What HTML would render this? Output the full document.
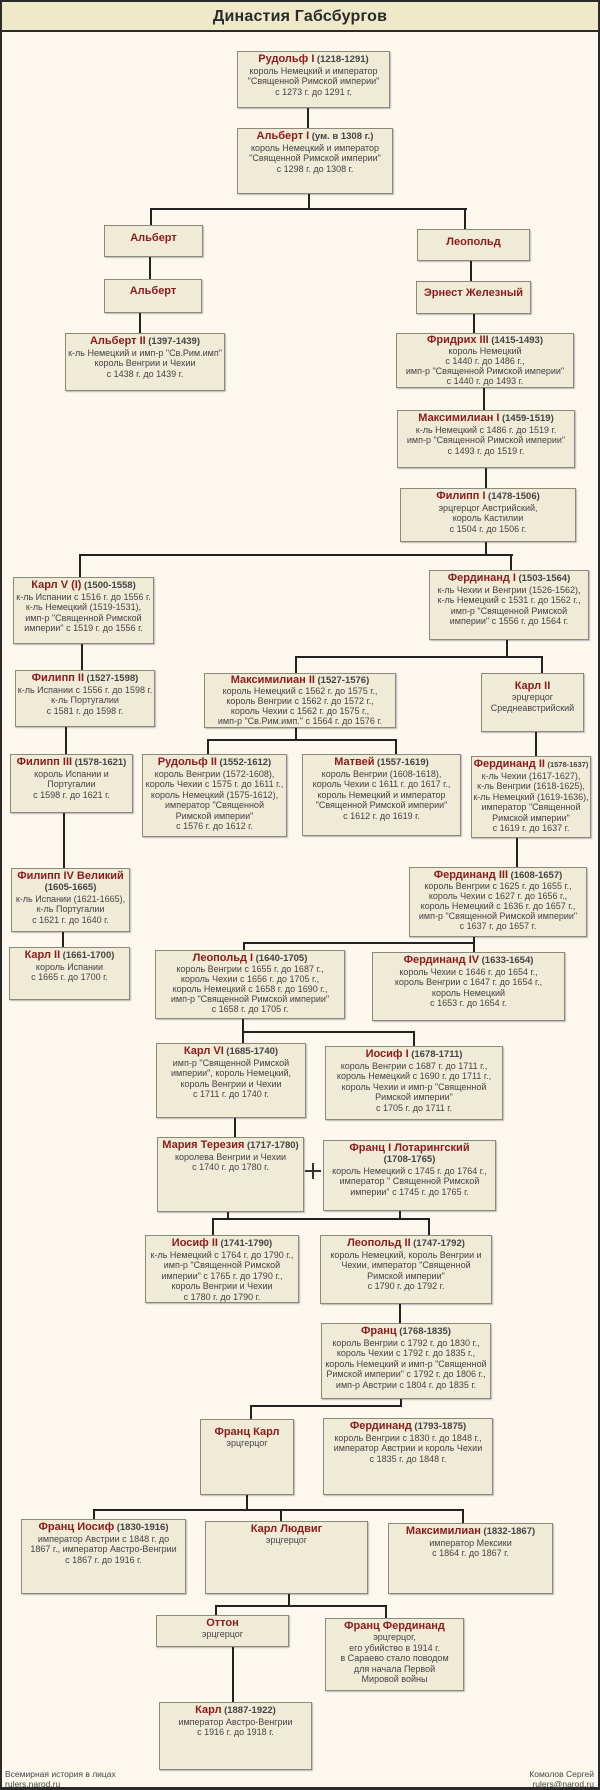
<!DOCTYPE html>
<html><head><meta charset="utf-8">
<style>
*{margin:0;padding:0;box-sizing:border-box}
html,body{width:600px;height:1790px;background:#fdf8ee;overflow:hidden}
body{position:relative;font-family:"Liberation Sans",sans-serif;color:#333}
#frame{position:absolute;left:0;top:0;width:600px;height:1790px;border:2px solid #2a2a2a;border-bottom-width:3px}
#title{position:absolute;left:0;top:0;width:600px;height:32px;background:#efe8c9;border:2px solid #2a2a2a;border-bottom-width:2px;text-align:center;font-size:16px;line-height:30px;color:#2a2a2a;font-weight:bold;letter-spacing:0.2px}
.b{position:absolute;background:#efebd7;border:1px solid #8a8a7a;box-shadow:1px 1px 1px #bbb;text-align:center;font-size:9px;line-height:10.5px;padding-top:1px;color:#444;white-space:nowrap;overflow:hidden}
.b b{color:#8b1c1c;font-size:11px;line-height:12px}
.b i{font-style:normal;font-weight:bold;color:#444;font-size:9.5px}
.t{line-height:10px}
.h{position:absolute;height:2px;background:#222}
.v{position:absolute;width:2px;background:#222}
.ft{position:absolute;font-size:8.5px;line-height:10px;color:#444}
</style></head><body>
<div id="frame"></div>
<div id="title">Династия Габсбургов</div>

<div class="b" style="left:237px;top:51px;width:153px;height:57px"><b>Рудольф I</b> <i>(1218-1291)</i><br>король Немецкий и император<br>"Священной Римской империи"<br>с 1273 г. до 1291 г.</div>
<div class="b" style="left:237px;top:128px;width:156px;height:66px"><b>Альберт I</b> <i>(ум. в 1308 г.)</i><br>король Немецкий и император<br>"Священной Римской империи"<br>с 1298 г. до 1308 г.</div>
<div class="b" style="left:104px;top:225px;width:99px;height:32px;padding-top:6px"><b>Альберт</b></div>
<div class="b" style="left:417px;top:229px;width:113px;height:32px;padding-top:6px"><b>Леопольд</b></div>
<div class="b" style="left:104px;top:279px;width:98px;height:34px;padding-top:5px"><b>Альберт</b></div>
<div class="b" style="left:416px;top:281px;width:115px;height:33px;padding-top:5px"><b>Эрнест Железный</b></div>
<div class="b" style="left:65px;top:333px;width:160px;height:58px"><b>Альберт II</b> <i>(1397-1439)</i><br>к-ль Немецкий и имп-р "Св.Рим.имп"<br>король Венгрии и Чехии<br>с 1438 г. до 1439 г.</div>
<div class="b t" style="left:396px;top:333px;width:178px;height:55px;padding-top:0"><b>Фридрих III</b> <i>(1415-1493)</i><br>король Немецкий<br>с 1440 г. до 1486 г.,<br>имп-р "Священной Римской империи"<br>с 1440 г. до 1493 г.</div>
<div class="b" style="left:397px;top:410px;width:178px;height:58px"><b>Максимилиан I</b> <i>(1459-1519)</i><br>к-ль Немецкий с 1486 г. до 1519 г.<br>имп-р "Священной Римской империи"<br>с 1493 г. до 1519 г.</div>
<div class="b" style="left:400px;top:488px;width:176px;height:54px"><b>Филипп I</b> <i>(1478-1506)</i><br>эрцгерцог Австрийский,<br>король Кастилии<br>с 1504 г. до 1506 г.</div>
<div class="b" style="left:13px;top:577px;width:141px;height:67px"><b>Карл V (I)</b> <i>(1500-1558)</i><br>к-ль Испании с 1516 г. до 1556 г.<br>к-ль Немецкий (1519-1531),<br>имп-р "Священной Римской<br>империи" с 1519 г. до 1556 г.</div>
<div class="b" style="left:429px;top:570px;width:160px;height:70px"><b>Фердинанд I</b> <i>(1503-1564)</i><br>к-ль Чехии и Венгрии (1526-1562),<br>к-ль Немецкий с 1531 г. до 1562 г.,<br>имп-р "Священной Римской<br>империи" с 1556 г. до 1564 г.</div>
<div class="b" style="left:15px;top:670px;width:140px;height:57px"><b>Филипп II</b> <i>(1527-1598)</i><br>к-ль Испании с 1556 г. до 1598 г.<br>к-ль Португалии<br>с 1581 г. до 1598 г.</div>
<div class="b t" style="left:204px;top:673px;width:192px;height:55px;padding-top:0"><b>Максимилиан II</b> <i>(1527-1576)</i><br>король Немецкий с 1562 г. до 1575 г.,<br>король Венгрии с 1562 г. до 1572 г.,<br>король Чехии с 1562 г. до 1575 г.,<br>имп-р "Св.Рим.имп." с 1564 г. до 1576 г.</div>
<div class="b" style="left:481px;top:673px;width:103px;height:59px;padding-top:6px"><b>Карл II</b><br>эрцгерцог<br>Среднеавстрийский</div>
<div class="b" style="left:10px;top:754px;width:123px;height:59px"><b>Филипп III</b> <i>(1578-1621)</i><br>король Испании и<br>Португалии<br>с 1598 г. до 1621 г.</div>
<div class="b" style="left:142px;top:754px;width:145px;height:83px"><b>Рудольф II</b> <i>(1552-1612)</i><br>король Венгрии (1572-1608),<br>король Чехии с 1575 г. до 1611 г.,<br>король Немецкий (1575-1612),<br>император "Священной<br>Римской империи"<br>с 1576 г. до 1612 г.</div>
<div class="b" style="left:302px;top:754px;width:159px;height:82px"><b>Матвей</b> <i>(1557-1619)</i><br>король Венгрии (1608-1618),<br>король Чехии с 1611 г. до 1617 г.,<br>король Немецкий и император<br>"Священной Римской империи"<br>с 1612 г. до 1619 г.</div>
<div class="b" style="left:471px;top:756px;width:120px;height:82px"><b>Фердинанд II</b> <i style="font-size:7.5px">(1578-1637)</i><br>к-ль Чехии (1617-1627),<br>к-ль Венгрии (1618-1625),<br>к-ль Немецкий (1619-1636),<br>император "Священной<br>Римской империи"<br>с 1619 г. до 1637 г.</div>
<div class="b" style="left:11px;top:868px;width:119px;height:64px"><b>Филипп IV Великий</b><br><i>(1605-1665)</i><br>к-ль Испании (1621-1665),<br>к-ль Португалии<br>с 1621 г. до 1640 г.</div>
<div class="b t" style="left:409px;top:867px;width:178px;height:70px"><b>Фердинанд III</b> <i>(1608-1657)</i><br>король Венгрии с 1625 г. до 1655 г.,<br>король Чехии с 1627 г. до 1656 г.,<br>король Немецкий с 1636 г. до 1657 г.,<br>имп-р "Священной Римской империи"<br>с 1637 г. до 1657 г.</div>
<div class="b" style="left:9px;top:947px;width:121px;height:53px"><b>Карл II</b> <i>(1661-1700)</i><br>король Испании<br>с 1665 г. до 1700 г.</div>
<div class="b t" style="left:155px;top:950px;width:190px;height:69px"><b>Леопольд I</b> <i>(1640-1705)</i><br>король Венгрии с 1655 г. до 1687 г.,<br>король Чехии с 1656 г. до 1705 г.,<br>король Немецкий с 1658 г. до 1690 г.,<br>имп-р "Священной Римской империи"<br>с 1658 г. до 1705 г.</div>
<div class="b" style="left:372px;top:952px;width:193px;height:69px"><b>Фердинанд IV</b> <i>(1633-1654)</i><br>король Чехии с 1646 г. до 1654 г.,<br>король Венгрии с 1647 г. до 1654 г.,<br>король Немецкий<br>с 1653 г. до 1654 г.</div>
<div class="b" style="left:156px;top:1043px;width:150px;height:75px"><b>Карл VI</b> <i>(1685-1740)</i><br>имп-р "Священной Римской<br>империи", король Немецкий,<br>король Венгрии и Чехии<br>с 1711 г. до 1740 г.</div>
<div class="b" style="left:325px;top:1046px;width:178px;height:74px"><b>Иосиф I</b> <i>(1678-1711)</i><br>король Венгрии с 1687 г. до 1711 г.,<br>король Немецкий с 1690 г. до 1711 г.,<br>король Чехии и имп-р "Священной<br>Римской империи"<br>с 1705 г. до 1711 г.</div>
<div class="b" style="left:157px;top:1137px;width:147px;height:75px"><b>Мария Терезия</b> <i>(1717-1780)</i><br>королева Венгрии и Чехии<br>с 1740 г. до 1780 г.</div>
<div style="position:absolute;left:305px;top:1170px;width:16px;height:2px;background:#333"></div>
<div style="position:absolute;left:312px;top:1163px;width:2px;height:16px;background:#333"></div>
<div class="b" style="left:323px;top:1140px;width:173px;height:71px"><b>Франц I Лотарингский</b><br><i>(1708-1765)</i><br>король Немецкий с 1745 г. до 1764 г.,<br>император " Священной Римской<br>империи" с 1745 г. до 1765 г.</div>
<div class="b" style="left:145px;top:1235px;width:154px;height:68px"><b>Иосиф II</b> <i>(1741-1790)</i><br>к-ль Немецкий с 1764 г. до 1790 г.,<br>имп-р "Священной Римской<br>империи" с 1765 г. до 1790 г.,<br>король Венгрии и Чехии<br>с 1780 г. до 1790 г.</div>
<div class="b" style="left:320px;top:1235px;width:172px;height:69px"><b>Леопольд II</b> <i>(1747-1792)</i><br>король Немецкий, король Венгрии и<br>Чехии, император "Священной<br>Римской империи"<br>с 1790 г. до 1792 г.</div>
<div class="b" style="left:321px;top:1323px;width:170px;height:76px"><b>Франц</b> <i>(1768-1835)</i><br>король Венгрии с 1792 г. до 1830 г.,<br>король Чехии с 1792 г. до 1835 г.,<br>король Немецкий и имп-р "Священной<br>Римской империи" с 1792 г. до 1806 г.,<br>имп-р Австрии с 1804 г. до 1835 г.</div>
<div class="b" style="left:200px;top:1419px;width:94px;height:76px;padding-top:6px"><b>Франц Карл</b><br>эрцгерцог</div>
<div class="b" style="left:323px;top:1418px;width:170px;height:77px"><b>Фердинанд</b> <i>(1793-1875)</i><br>король Венгрии с 1830 г. до 1848 г.,<br>император Австрии и король Чехии<br>с 1835 г. до 1848 г.</div>
<div class="b" style="left:21px;top:1519px;width:165px;height:75px"><b>Франц Иосиф</b> <i>(1830-1916)</i><br>император Австрии с 1848 г. до<br>1867 г., император Австро-Венгрии<br>с 1867 г. до 1916 г.</div>
<div class="b" style="left:205px;top:1521px;width:163px;height:73px"><b>Карл Людвиг</b><br>эрцгерцог</div>
<div class="b" style="left:388px;top:1523px;width:165px;height:71px"><b>Максимилиан</b> <i>(1832-1867)</i><br>император Мексики<br>с 1864 г. до 1867 г.</div>
<div class="b" style="left:156px;top:1615px;width:133px;height:32px"><b>Оттон</b><br>эрцгерцог</div>
<div class="b" style="left:325px;top:1618px;width:139px;height:73px"><b>Франц Фердинанд</b><br>эрцгерцог,<br>его убийство в 1914 г.<br>в Сараево стало поводом<br>для начала Первой<br>Мировой войны</div>
<div class="b" style="left:159px;top:1702px;width:153px;height:68px"><b>Карл</b> <i>(1887-1922)</i><br>император Австро-Венгрии<br>с 1916 г. до 1918 г.</div>

<div class="v" style="left:307px;top:108px;height:20px"></div>
<div class="v" style="left:308px;top:194px;height:16px"></div>
<div class="h" style="left:150px;top:208px;width:317px"></div>
<div class="v" style="left:150px;top:208px;height:17px"></div>
<div class="v" style="left:464px;top:208px;height:21px"></div>
<div class="v" style="left:149px;top:257px;height:22px"></div>
<div class="v" style="left:470px;top:261px;height:20px"></div>
<div class="v" style="left:139px;top:313px;height:20px"></div>
<div class="v" style="left:473px;top:314px;height:19px"></div>
<div class="v" style="left:483px;top:388px;height:22px"></div>
<div class="v" style="left:485px;top:468px;height:20px"></div>
<div class="v" style="left:485px;top:542px;height:14px"></div>
<div class="h" style="left:79px;top:554px;width:434px"></div>
<div class="v" style="left:79px;top:554px;height:23px"></div>
<div class="v" style="left:510px;top:554px;height:16px"></div>
<div class="v" style="left:81px;top:644px;height:26px"></div>
<div class="v" style="left:506px;top:640px;height:18px"></div>
<div class="h" style="left:295px;top:656px;width:248px"></div>
<div class="v" style="left:295px;top:656px;height:17px"></div>
<div class="v" style="left:541px;top:656px;height:17px"></div>
<div class="v" style="left:65px;top:727px;height:27px"></div>
<div class="v" style="left:295px;top:728px;height:12px"></div>
<div class="h" style="left:207px;top:739px;width:190px"></div>
<div class="v" style="left:207px;top:739px;height:15px"></div>
<div class="v" style="left:395px;top:739px;height:15px"></div>
<div class="v" style="left:535px;top:732px;height:24px"></div>
<div class="v" style="left:63px;top:813px;height:55px"></div>
<div class="v" style="left:62px;top:932px;height:15px"></div>
<div class="v" style="left:516px;top:838px;height:29px"></div>
<div class="v" style="left:473px;top:937px;height:15px"></div>
<div class="h" style="left:243px;top:942px;width:232px"></div>
<div class="v" style="left:243px;top:942px;height:8px"></div>
<div class="v" style="left:242px;top:1019px;height:24px"></div>
<div class="h" style="left:242px;top:1031px;width:173px"></div>
<div class="v" style="left:413px;top:1031px;height:15px"></div>
<div class="v" style="left:234px;top:1118px;height:19px"></div>
<div class="v" style="left:227px;top:1212px;height:8px"></div>
<div class="v" style="left:399px;top:1211px;height:9px"></div>
<div class="h" style="left:212px;top:1218px;width:218px"></div>
<div class="v" style="left:212px;top:1218px;height:17px"></div>
<div class="v" style="left:428px;top:1218px;height:17px"></div>
<div class="v" style="left:399px;top:1304px;height:19px"></div>
<div class="v" style="left:400px;top:1399px;height:8px"></div>
<div class="h" style="left:250px;top:1405px;width:152px"></div>
<div class="v" style="left:250px;top:1405px;height:14px"></div>
<div class="v" style="left:246px;top:1495px;height:16px"></div>
<div class="h" style="left:93px;top:1509px;width:371px"></div>
<div class="v" style="left:93px;top:1509px;height:10px"></div>
<div class="v" style="left:280px;top:1509px;height:12px"></div>
<div class="v" style="left:462px;top:1509px;height:14px"></div>
<div class="v" style="left:288px;top:1594px;height:12px"></div>
<div class="h" style="left:215px;top:1605px;width:172px"></div>
<div class="v" style="left:215px;top:1605px;height:10px"></div>
<div class="v" style="left:385px;top:1605px;height:13px"></div>
<div class="v" style="left:232px;top:1647px;height:55px"></div>

<div class="ft" style="left:5px;top:1769px">Всемирная история в лицах<br>rulers.narod.ru</div>
<div class="ft" style="right:6px;top:1769px;text-align:right">Комолов Сергей<br>rulers@narod.ru</div>
</body></html>
